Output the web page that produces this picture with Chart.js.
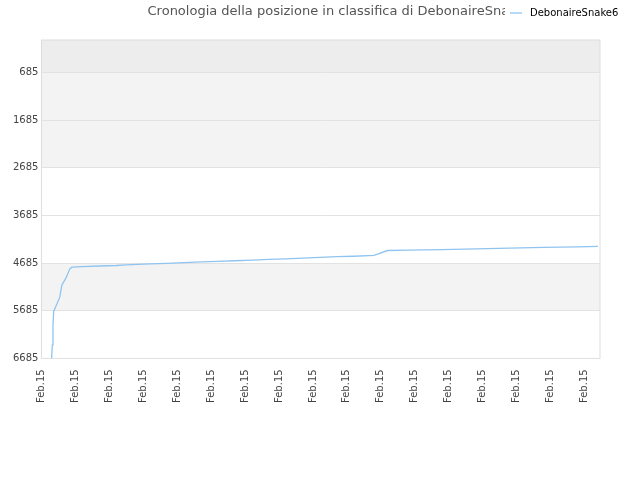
<!DOCTYPE html>
<html><head><meta charset="utf-8">
<script src="https://cdn.jsdelivr.net/npm/chart.js@4"></script>
<style>body{margin:0;background:#fff}#wrap{width:640px;height:480px;position:relative}</style>
</head><body>
<div id="wrap"><canvas id="c"></canvas></div>
<script>
const seriesName = 'DebonaireSnake6';
const titleText = 'Cronologia della posizione in classifica di DebonaireSnake6';
const tickLabels = Array(17).fill('Feb.15');
const yTicks = [685, 1685, 2685, 3685, 4685, 5685, 6685];
const xValues = [0.3, 0.32, 0.34, 0.36, 0.42, 0.54, 0.6, 0.72, 0.84, 0.9, 1.2, 1.7, 2.2, 2.5, 3.2, 3.7, 4.2, 4.7, 5.2, 5.7, 6.2, 6.7, 7.2, 7.7, 8.2, 8.7, 9.2, 9.8, 10.2, 10.8, 11.8, 12.8, 13.8, 14.8, 15.8, 16.4];
const yValues = [6685, 6400, 6000, 5700, 5600, 5400, 5150, 5000, 4800, 4770, 4760, 4745, 4735, 4720, 4700, 4690, 4675, 4660, 4650, 4635, 4620, 4605, 4595, 4580, 4565, 4550, 4540, 4520, 4420, 4410, 4400, 4385, 4370, 4355, 4345, 4335];
const bands = [[0, 685, '#ededed'], [685, 2685, '#f3f3f3'], [4685, 5685, '#f3f3f3']];

const bandPlugin = {
  id: 'bands',
  beforeDraw(chart) {
    const {ctx, chartArea: a, scales: {y}} = chart;
    ctx.save();
    bands.forEach(([lo, hi, col]) => {
      const t = y.getPixelForValue(lo), b = y.getPixelForValue(hi);
      ctx.fillStyle = col;
      ctx.fillRect(a.left, Math.min(t, b), a.right - a.left, Math.abs(b - t));
    });
    ctx.strokeStyle = '#ddd';
    ctx.strokeRect(a.left, a.top, a.right - a.left, a.bottom - a.top);
    ctx.restore();
  },
  afterDraw(chart) {
    const ctx = chart.ctx;
    ctx.save();
    ctx.font = '13px "DejaVu Sans"';
    ctx.fillStyle = '#555';
    ctx.textBaseline = 'middle';
    ctx.textAlign = 'center';
    ctx.fillText(titleText, 340, 12);
    // legend box over the title end
    ctx.fillStyle = '#fff';
    ctx.fillRect(505, 0, 135, 26);
    ctx.strokeStyle = '#90c4f0';
    ctx.lineWidth = 1.3;
    ctx.beginPath(); ctx.moveTo(510, 13); ctx.lineTo(522, 13); ctx.stroke();
    ctx.font = '10px "DejaVu Sans"';
    ctx.fillStyle = '#000';
    ctx.textAlign = 'left';
    ctx.fillText(seriesName, 530, 13);
    ctx.restore();
  }
};

new Chart(document.getElementById('c'), {
  type: 'line',
  data: {datasets: [{
    label: seriesName,
    data: xValues.map((x, i) => ({x, y: yValues[i]})),
    borderColor: '#90c4f0', backgroundColor: '#90c4f0',
    borderWidth: 1.3, pointRadius: 0, tension: 0
  }]},
  options: {
    responsive: true, maintainAspectRatio: false, animation: false,
    layout: {padding: {left: 10, right: 40, top: 40, bottom: 74}},
    plugins: {legend: {display: false}, title: {display: false}, tooltip: {enabled: false}},
    scales: {
      x: {type: 'linear', min: 0, max: 16.46,
        afterBuildTicks: s => { s.ticks = tickLabels.map((_, i) => ({value: i})); },
        ticks: {autoSkip: false, maxRotation: 90, minRotation: 90, color: '#444', font: {family: 'DejaVu Sans', size: 10},
          callback: (v, i) => tickLabels[i]},
        grid: {display: false}, border: {display: false}},
      y: {reverse: true, min: 0, max: 6685,
        afterBuildTicks: s => { s.ticks = yTicks.map(v => ({value: v})); },
        ticks: {color: '#444', font: {family: 'DejaVu Sans', size: 10}, callback: v => String(v)},
        grid: {color: '#e2e2e2', drawTicks: false}, border: {display: false}}
    }
  },
  plugins: [bandPlugin]
});
</script>
</body></html>
